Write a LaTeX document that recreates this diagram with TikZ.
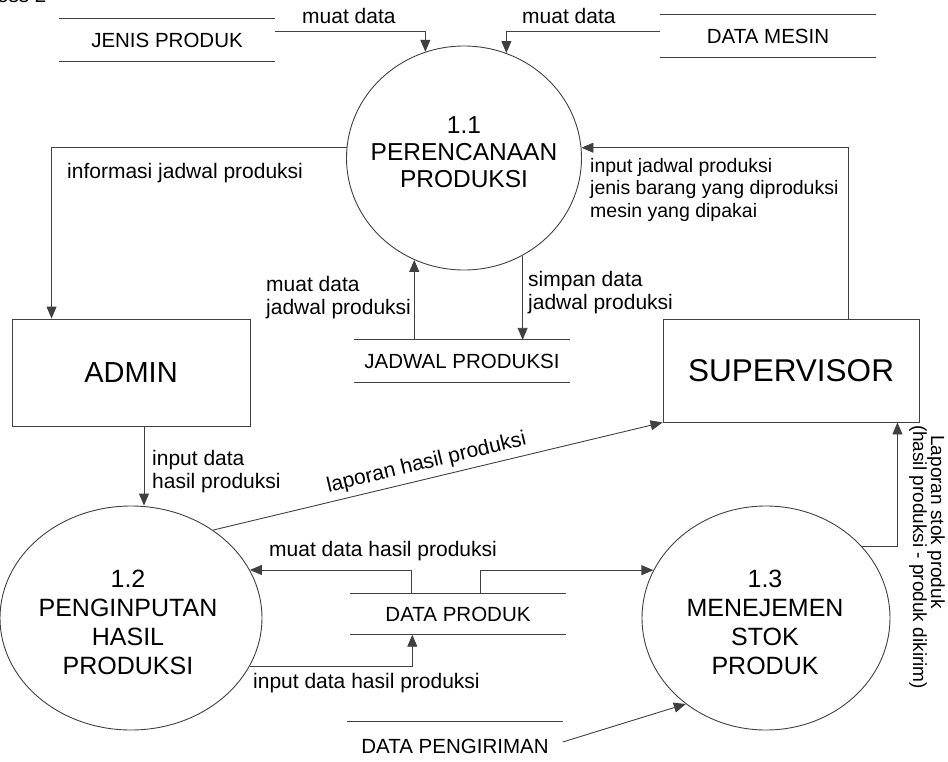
\documentclass[tikz,border=0pt]{standalone}
\usepackage{fontspec}
\setmainfont{Liberation Sans}
\usetikzlibrary{arrows.meta,shapes.geometric}
\begin{document}
\begin{tikzpicture}[x=1pt,y=-1pt,
  ln/.style={draw=black!75, line width=0.9pt},
  arr/.style={ln, -{Triangle[length=12pt,width=10pt]}},
  lbl/.style={font=\fontsize{21}{23.5}\selectfont, inner sep=0pt, align=left},
  lblsm/.style={font=\fontsize{19.5}{22.5}\selectfont, inner sep=0pt, align=left},
  lblrot/.style={font=\fontsize{19}{21}\selectfont, inner sep=0pt, rotate=-90},
  storetxt/.style={font=\fontsize{20.5}{24}\selectfont, minimum width=215pt, minimum height=42pt, inner sep=0pt},
  proc/.style={ellipse, ln, inner sep=0pt},
  proctxt/.style={align=center, inner sep=0pt, font=\fontsize{24.5}{27}\selectfont},
  proctxtb/.style={align=center, inner sep=0pt, font=\fontsize{25}{29}\selectfont},
  ent/.style={rectangle, ln, inner sep=0pt, font=\fontsize{29}{32}\selectfont}
]
\useasboundingbox (0,0) rectangle (948,761);

% cut-off header
\node[anchor=base west, inner sep=0pt, font=\fontsize{20.5}{24}\selectfont] (hdr) at (-3,2) {ess 2};

% processes
\node[proc, minimum width=235pt, minimum height=224pt] (p11) at (464,158) {};
\node[proctxt] (p11t) at (464,152) {1.1\\PERENCANAAN\\PRODUKSI};
\node[proc, minimum width=262pt, minimum height=224pt] (p12) at (131,618) {};
\node[proctxtb] (p12t) at (128,622) {1.2\\PENGINPUTAN\\HASIL\\PRODUKSI};
\node[proc, minimum width=248pt, minimum height=224pt] (p13) at (766,618) {};
\node[proctxtb] (p13t) at (765,622) {1.3\\MENEJEMEN\\STOK\\PRODUK};

% entities
\node[ent, minimum width=238pt, minimum height=107pt] (admin) at (131,372.5) {ADMIN};
\node[ent, minimum width=256pt, minimum height=103pt, font=\fontsize{31.5}{34}\selectfont] (sup) at (791,370.5) {SUPERVISOR};

% data stores
\node[storetxt] (js) at (167,40) {JENIS PRODUK};
\node[storetxt] (dm) at (768,36) {DATA MESIN};
\node[storetxt] (jp) at (462,361) {JADWAL PRODUKSI};
\node[storetxt, minimum height=41pt] (dp) at (458,614) {DATA PRODUK};
\node[storetxt, minimum height=48pt] (dpg) at (455,746) {DATA PENGIRIMAN};
\foreach \s in {js,dm,jp,dp}{
  \draw[ln] (\s.north west) -- (\s.north east) (\s.south west) -- (\s.south east);
}
\draw[ln] (dpg.north west) -- (dpg.north east);

% flows
\draw[arr] ([yshift=-13pt]js.north east) -| (p11.110);
\draw[arr] ([yshift=-17pt]dm.north west) -| (p11.68);
\draw[arr] (p11.175) -| ([xshift=40pt]admin.north west);
\draw[arr] ([xshift=-71pt]sup.north east) |- (p11.5);
\draw[arr] (p11.244 |- jp.north) -- (p11.244);
\draw[arr] (p11.301) -- (p11.301 |- jp.north);
\draw[arr] ([xshift=13pt]admin.south) -- ([xshift=13pt]p12.north);
\draw[arr] (p12.47) -- (sup.south west)
  node[lbl, sloped, above=5pt, pos=0.483] (l8) {laporan hasil produksi};
\draw[arr] ([xshift=61pt]dp.north west) |- (p12.22);
\draw[arr] ([xshift=130pt]dp.north west) |- (p13.157);
\draw[arr] (p12.338) -| ([xshift=62pt]dp.south west);
\draw[arr] ([yshift=4pt]dpg.east) -- (p13.227);
\draw[arr] (p13.37) -| ([xshift=-22pt]sup.south east);

% labels
\node[lbl, anchor=west] (l1) at (302,16) {muat data};
\node[lbl, anchor=west] (l2) at (522,16) {muat data};
\node[lbl, anchor=west] (l3) at (67,173) {informasi jadwal produksi};
\node[lblsm, anchor=north west] (l4) at (590,158) {input jadwal produksi\\jenis barang yang diproduksi\\mesin yang dipakai};
\node[lbl, anchor=north west] (l5) at (266,276) {muat data\\jadwal produksi};
\node[lbl, anchor=north west] (l6) at (528,271) {simpan data\\jadwal produksi};
\node[lbl, anchor=north west] (l7) at (152,450) {input data\\hasil produksi};
\node[lbl, anchor=west] (l9) at (269,551) {muat data hasil produksi};
\node[lbl, anchor=west] (l10) at (253,683) {input data hasil produksi};
\node[lblrot] (l11) at (936,522) {Laporan stok produk};
\node[lblrot] (l12) at (918,557) {(hasil produksi - produk dikirim)};
\end{tikzpicture}
\end{document}
